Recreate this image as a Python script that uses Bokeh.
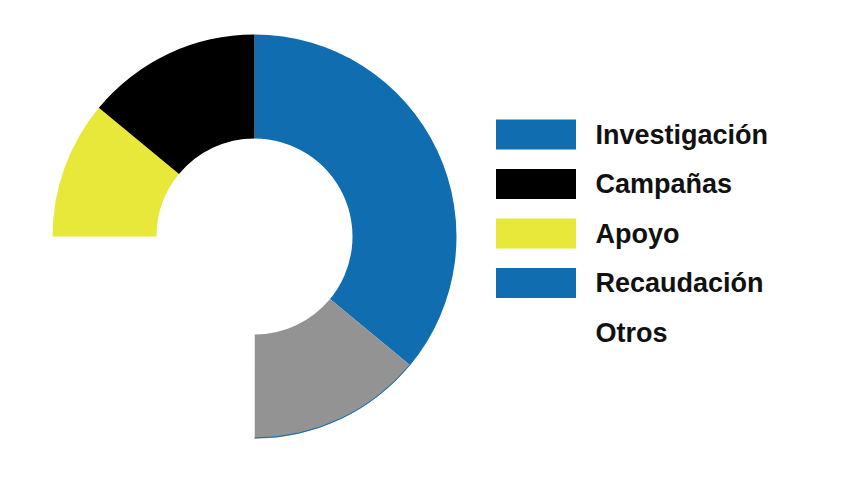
import numpy as np
from bokeh.plotting import figure
from bokeh.models import Range1d, ColumnDataSource
from bokeh.core.properties import value
from bokeh.embed import file_html
from bokeh.resources import INLINE

# Data (clockwise from 12 o'clock)
slice_names = ["Investigación", "Recaudación", "Otros", "Apoyo", "Campañas"]
slice_values = [36, 14, 25, 11, 14]
slice_colors = ["#106eb0", "#939393", "#ffffff", "#e8e83a", "#000000"]

legend_labels = ["Investigación", "Campañas", "Apoyo", "Recaudación", "Otros"]
legend_colors = ["#106eb0", "#000000", "#e8e83a", "#106eb0", "#ffffff"]
legend_alpha = [1, 1, 1, 1, 0]

W, H = 832, 487
p = figure(width=W, height=H, x_range=Range1d(0, W), y_range=Range1d(0, H),
           output_backend="svg", toolbar_location=None, min_border=0,
           background_fill_color="white", border_fill_color="white")
p.outline_line_color = None
p.axis.visible = False
p.grid.visible = False

cx, cy = 254, H - 236
r_in, r_out = 98, 202

vals = np.array(slice_values, dtype=float)
frac = vals / vals.sum()
cum = np.concatenate([[0], np.cumsum(frac)]) * 2 * np.pi
starts = np.pi / 2 - cum[:-1]
ends = np.pi / 2 - cum[1:]

src = ColumnDataSource(dict(start=starts, end=ends, color=slice_colors, name=slice_names))
p.annular_wedge(x=cx, y=cy, inner_radius=r_in, outer_radius=r_out,
                start_angle="start", end_angle="end", direction="clock",
                fill_color="color", line_color=None, source=src)

# thin blue edge along outer arc of the gray slice
p.arc(x=cx, y=cy, radius=r_out - 0.5, start_angle=starts[1], end_angle=ends[1],
      direction="clock", line_color="#106eb0", line_width=1)

# Legend
n = len(legend_labels)
idx = np.arange(n)
sw_y = H - (134 + idx * 49.5)
tx_y = H - (134 + idx * 49.5)
lsrc = ColumnDataSource(dict(x=[535.5] * n, y=sw_y, color=legend_colors, alpha=legend_alpha,
                             tx=[595] * n, ty=tx_y, label=legend_labels))
p.rect(x="x", y="y", width=80, height=30, fill_color="color", fill_alpha="alpha",
       line_color=None, source=lsrc)
p.text(x="tx", y="ty", text="label", text_font=value("Liberation Sans"),
       text_font_style="bold", text_font_size="27px", text_color="#111111",
       text_baseline="alphabetic", text_align="left", source=lsrc)

open("out.html", "w").write(file_html(p, INLINE))
